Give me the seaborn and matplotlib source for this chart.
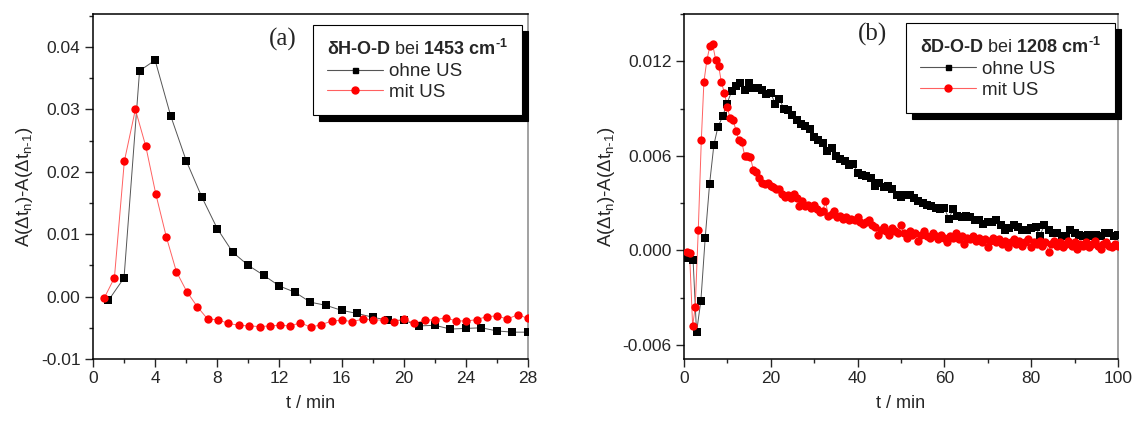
import numpy as np
import pandas as pd
import matplotlib
matplotlib.use("Agg")
import matplotlib.pyplot as plt
import matplotlib.ticker as mt
import seaborn as sns

# panel (a): dH-O-D bei 1453 cm-1
a_t_ohne = [1, 2, 3, 4, 5, 6, 7, 8, 9, 10, 11, 12, 13, 14, 15, 16, 17, 18, 19, 20,
            21, 22, 23, 24, 25, 26, 27, 28]
a_y_ohne = [-0.0006, 0.0030, 0.0362, 0.0379, 0.0290, 0.0218, 0.0160, 0.0109, 0.0071, 0.0050,
            0.0034, 0.0017, 0.0007, -0.0009, -0.0014, -0.0022, -0.0027, -0.0033, -0.0038, -0.0038,
            -0.0047, -0.0046, -0.0052, -0.0051, -0.0050, -0.0055, -0.0057, -0.0057]
a_t_mit = [0.71, 1.38, 2.02, 2.73, 3.40, 4.04, 4.73, 5.37, 6.04, 6.71, 7.38, 8.04, 8.71, 9.40,
           10.06, 10.73, 11.37, 12.04, 12.70, 13.35, 14.02, 14.69, 15.38, 16.04, 16.70, 17.37,
           18.04, 18.70, 19.37, 20.04, 20.69, 21.35, 22.04, 22.70, 23.37, 24.04, 24.69, 25.35,
           26.00, 26.67, 27.34, 28.00]
a_y_mit = [-0.0003, 0.0030, 0.0217, 0.0300, 0.0241, 0.0165, 0.0095, 0.0040, 0.0008, -0.0016,
           -0.0036, -0.0037, -0.0043, -0.0046, -0.0047, -0.0048, -0.0047, -0.0046, -0.0047, -0.0042,
           -0.0049, -0.0045, -0.0039, -0.0038, -0.0040, -0.0036, -0.0037, -0.0038, -0.0040, -0.0036,
           -0.0043, -0.0038, -0.0037, -0.0034, -0.0039, -0.0039, -0.0037, -0.0032, -0.0031, -0.0036,
           -0.0029, -0.0035]

# panel (b): dD-O-D bei 1208 cm-1
b_t_ohne = [0.6, 2.1, 2.9, 3.9, 4.9, 5.9, 6.9, 7.8, 8.9, 9.9, 11, 12, 13, 14, 15, 16, 17, 18,
            19, 20, 21, 22, 23, 24, 25, 26, 27, 28, 29, 30, 31, 32, 33, 34, 35, 36, 37, 38, 39,
            40, 41, 42, 43, 44, 45, 46, 47, 48, 49, 50, 51, 52, 53, 54, 55, 56, 57, 58, 59, 60,
            61, 62, 63, 64, 65, 66, 67, 68, 69, 70, 71, 72, 73, 74, 75, 76, 77, 78, 79, 80, 81,
            82, 83, 84, 85, 86, 87, 88, 89, 90, 91, 92, 93, 94, 95, 96, 97, 98, 99, 100]
b_y_ohne = [-0.0005, -0.0006, -0.0052, -0.0032, 0.0008, 0.0042, 0.0067, 0.0078, 0.0085, 0.0093,
            0.0101, 0.0104, 0.0106, 0.0102, 0.0106, 0.0103, 0.0103, 0.0102, 0.0099, 0.0100,
            0.0093, 0.0096, 0.0090, 0.0089, 0.0086, 0.0083, 0.0080, 0.0079, 0.0077, 0.0072,
            0.0070, 0.0068, 0.0063, 0.0065, 0.0060, 0.0058, 0.0057, 0.0054, 0.0055, 0.0049,
            0.0048, 0.0047, 0.0046, 0.0041, 0.0043, 0.0040, 0.0041, 0.0039, 0.0035, 0.0034,
            0.0035, 0.0035, 0.0033, 0.0031, 0.0030, 0.0029, 0.0028, 0.0027, 0.0026, 0.0027,
            0.0020, 0.0026, 0.0022, 0.0021, 0.0022, 0.0021, 0.0019, 0.0019, 0.0017, 0.0018,
            0.0018, 0.0019, 0.0016, 0.0013, 0.0014, 0.0016, 0.0015, 0.0013, 0.0013, 0.0014,
            0.0015, 0.0009, 0.0016, 0.0013, 0.0011, 0.0011, 0.0009, 0.0009, 0.0013, 0.0011,
            0.0010, 0.0009, 0.0010, 0.0009, 0.0010, 0.0009, 0.0011, 0.0011, 0.0009, 0.0010]
b_t_mit = [0.6, 1.3, 2.0, 2.6, 3.3, 4.0, 4.6, 5.3, 6.0, 6.6, 7.3, 8.0, 8.6, 9.3, 10.0,
           10.6, 11.3, 12.0, 12.6, 13.3, 14.0, 14.6, 15.3, 16.0, 16.6, 17.3, 18.0, 18.6, 19.3, 20.0,
           20.6, 21.3, 22.0, 22.6, 23.3, 24.0, 24.6, 25.3, 26.0, 26.6, 27.3, 28.0, 28.6, 29.3, 30.0,
           30.6, 31.3, 32.0, 32.6, 33.3, 34.0, 34.6, 35.3, 36.0, 36.6, 37.3, 38.0, 38.6, 39.3, 40.0,
           40.6, 41.3, 42.0, 42.6, 43.3, 44.0, 44.6, 45.3, 46.0, 46.6, 47.3, 48.0, 48.6, 49.3, 50.0,
           50.6, 51.3, 52.0, 52.6, 53.3, 54.0, 54.6, 55.3, 56.0, 56.6, 57.3, 58.0, 58.6, 59.3, 60.0,
           60.6, 61.3, 62.0, 62.6, 63.3, 64.0, 64.6, 65.3, 66.0, 66.6, 67.3, 68.0, 68.6, 69.3, 70.0,
           70.6, 71.3, 72.0, 72.6, 73.3, 74.0, 74.6, 75.3, 76.0, 76.6, 77.3, 78.0, 78.6, 79.3, 80.0,
           80.6, 81.3, 82.0, 82.6, 83.3, 84.0, 84.6, 85.3, 86.0, 86.6, 87.3, 88.0, 88.6, 89.3, 90.0,
           90.6, 91.3, 92.0, 92.6, 93.3, 94.0, 94.6, 95.3, 96.0, 96.6, 97.3, 98.0, 98.6, 99.3, 100.0]
b_y_mit = [-0.0001, -0.0002, -0.0048, -0.0036, 0.0013, 0.0070, 0.0107, 0.0121, 0.0130, 0.0131,
           0.0121, 0.0117, 0.0107, 0.0100, 0.0091, 0.0084, 0.0083, 0.0076, 0.0070, 0.0069,
           0.0060, 0.0060, 0.0059, 0.0051, 0.0050, 0.0046, 0.0043, 0.0042, 0.0043, 0.0041,
           0.0040, 0.0039, 0.0039, 0.0036, 0.0034, 0.0035, 0.0033, 0.0036, 0.0033, 0.0028,
           0.0031, 0.0028, 0.0029, 0.0027, 0.0029, 0.0026, 0.0024, 0.0025, 0.0031, 0.0022,
           0.0023, 0.0025, 0.0021, 0.0022, 0.0020, 0.0021, 0.0019, 0.0020, 0.0019, 0.0021,
           0.0018, 0.0017, 0.0018, 0.0019, 0.0016, 0.0015, 0.0010, 0.0013, 0.0015, 0.0012,
           0.0010, 0.0014, 0.0012, 0.0011, 0.0016, 0.0011, 0.0008, 0.0012, 0.0010, 0.0011,
           0.0006, 0.0010, 0.0012, 0.0009, 0.0008, 0.0011, 0.0009, 0.0007, 0.0010, 0.0008,
           0.0005, 0.0009, 0.0008, 0.0011, 0.0007, 0.0009, 0.0004, 0.0008, 0.0007, 0.0009,
           0.0006, 0.0008, 0.0005, 0.0007, 0.0002, 0.0006, 0.0008, 0.0005, 0.0007, 0.0004,
           0.0006, 0.0002, 0.0005, 0.0007, 0.0004, 0.0006, 0.0003, 0.0005, 0.0007, 0.0002,
           0.0005, 0.0004, 0.0006, 0.0003, 0.0005, -0.0001, 0.0004, 0.0006, 0.0003, 0.0005,
           0.0002, 0.0004, 0.0006, 0.0003, 0.0005, 0.0001, 0.0004, 0.0003, 0.0005, 0.0002,
           0.0004, 0.0006, 0.0003, 0.0001, 0.0004, 0.0005, 0.0003, 0.0002, 0.0004, 0.0003]

titles = ["$\\mathbf{δH‐O‐D}$ bei $\\mathbf{1453\\ cm^{‐1}}$",
          "$\\mathbf{δD‐O‐D}$ bei $\\mathbf{1208\\ cm^{‐1}}$"]

sns.set_style("ticks")
plt.rcParams['font.family'] = ['Liberation Sans', 'DejaVu Sans']
plt.rcParams['mathtext.fontset'] = 'custom'
plt.rcParams['mathtext.rm'] = 'Liberation Sans'
plt.rcParams['mathtext.it'] = 'Liberation Sans:italic'
plt.rcParams['mathtext.bf'] = 'Liberation Sans:bold'
plt.rcParams['mathtext.default'] = 'regular'
plt.rcParams['axes.unicode_minus'] = False

fig = plt.figure(figsize=(11.35, 4.21), dpi=100)
ax1 = fig.add_axes([0.0819, 0.1473, 0.3833, 0.8194])
ax2 = fig.add_axes([0.6026, 0.1473, 0.3824, 0.8194])

panels = [
    (ax1, a_t_ohne, a_y_ohne, a_t_mit, a_y_mit, titles[0], "(a)"),
    (ax2, b_t_ohne, b_y_ohne, b_t_mit, b_y_mit, titles[1], "(b)"),
]

for ax, tx, yx, tm, ym, ttl, lab in panels:
    sns.lineplot(x=tx, y=yx, ax=ax, color='#555555', lw=0.7, estimator=None, sort=False)
    sns.scatterplot(x=tx, y=yx, ax=ax, marker='s', color='black', s=30, linewidth=0, zorder=3)
    sns.lineplot(x=tm, y=ym, ax=ax, color='#ff6060', lw=0.7, estimator=None, sort=False)
    sns.scatterplot(x=tm, y=ym, ax=ax, marker='o', color='#ff0000', s=36, linewidth=0, zorder=4)
    ax.set_xlabel("t / min", fontsize=13, labelpad=6)
    ax.set_ylabel("A(Δt$_n$)-A(Δt$_{n‐1}$)", fontsize=13.5, labelpad=4)
    ax.tick_params(which='major', direction='out', length=6, width=1, labelsize=12.5, pad=3)
    ax.tick_params(which='minor', direction='out', length=3, width=1)
    for s in ['left', 'bottom', 'top']:
        ax.spines[s].set_color('black')
        ax.spines[s].set_linewidth(1.1)
    ax.spines['right'].set_color('#888888')
    ax.spines['right'].set_linewidth(1.1)

    # legend
    h1 = plt.Line2D([], [], color='#555555', lw=0.8, marker='s', mfc='black', mec='black', ms=3.6)
    h2 = plt.Line2D([], [], color='#ff6060', lw=0.8, marker='o', mfc='red', mec='red', ms=5)
    anchor = (0.506, 0.968) if lab == "(a)" else (0.511, 0.974)
    leg = ax.legend([h1, h2], ["ohne US", "mit US"], title=ttl, loc='upper left',
                    bbox_to_anchor=anchor, fontsize=13.5, title_fontsize=13,
                    fancybox=False, framealpha=1, edgecolor='black',
                    shadow={'ox': 4.5, 'oy': -4, 'color': 'black', 'alpha': 1},
                    handlelength=3.0, handletextpad=0.3, labelspacing=0.2,
                    borderpad=0.75, alignment='left', borderaxespad=0)
    leg.get_frame().set_linewidth(0.8)

ax1.set_xlim(0, 28)
ax1.set_ylim(-0.01, 0.0453)
ax1.xaxis.set_major_locator(mt.MultipleLocator(4))
ax1.xaxis.set_minor_locator(mt.MultipleLocator(2))
ax1.yaxis.set_major_locator(mt.MultipleLocator(0.01))
ax1.yaxis.set_minor_locator(mt.MultipleLocator(0.005))
ax1.yaxis.set_major_formatter(mt.FormatStrFormatter('%.2f'))
ax1.text(0.405, 0.96, "(a)", transform=ax1.transAxes, fontsize=18,
         family='Liberation Serif', va='top', ha='left')

ax2.set_xlim(0, 100)
ax2.set_ylim(-0.0069, 0.015)
ax2.xaxis.set_major_locator(mt.MultipleLocator(20))
ax2.xaxis.set_minor_locator(mt.MultipleLocator(10))
ax2.yaxis.set_major_locator(mt.MultipleLocator(0.006))
ax2.yaxis.set_minor_locator(mt.MultipleLocator(0.003))
ax2.yaxis.set_major_formatter(mt.FormatStrFormatter('%.3f'))
ax2.text(0.4, 0.975, "(b)", transform=ax2.transAxes, fontsize=18,
         family='Liberation Serif', va='top', ha='left')

fig.savefig("out.png", dpi=100)
